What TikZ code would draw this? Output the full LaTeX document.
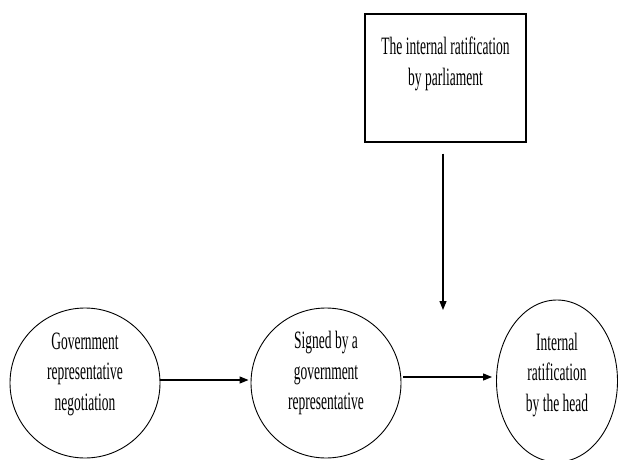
\documentclass[tikz,border=0pt]{standalone}
\usepackage{fontspec}
\setmainfont{Liberation Serif}
\newfontfamily\narrowserif[FakeStretch=0.54]{Liberation Serif}
\usetikzlibrary{arrows.meta,shapes.geometric}
\begin{document}
\begin{tikzpicture}[x=1pt,y=-1pt,
  every node/.style={font=\narrowserif\fontsize{25}{30.5}\selectfont},
  stage/.style={circle,draw,line width=0.9pt,minimum size=150pt,inner sep=0pt},
  stageoval/.style={ellipse,draw,line width=0.9pt,minimum width=121pt,minimum height=162pt,inner sep=0pt},
  parlbox/.style={rectangle,draw,line width=1.4pt,minimum width=161pt,minimum height=128pt,inner sep=0pt},
  txt/.style={align=center,inner sep=0pt},
  arr/.style={-{Triangle[length=9pt,width=7pt]},line width=1.2pt}]
\useasboundingbox (0,0) rectangle (621,460);
\node[parlbox] (box) at (445.5,78) {};
\node[txt,anchor=north] (boxt) at (445.5,37) {The internal ratification\\by parliament};
\node[stage] (c1) at (85,383) {};
\node[txt] (t1) at (85,374) {Government\\representative\\negotiation};
\node[stage] (c2) at (326,383) {};
\node[txt] (t2) at (326,373) {Signed by a\\government\\representative};
\node[stageoval] (c3) at (557,381) {};
\node[txt] (t3) at (557,375) {Internal\\ratification\\by the head};
\coordinate (vend) at (443,310);
\coordinate (rowa) at (0,380);
\coordinate (rowb) at (0,377);
\draw[arr] (box.south -| vend) ++(0,11) -- (vend);
\draw[arr] (c1.east |- rowa) -- ([xshift=-2pt]c2.west |- rowa);
\draw[arr] ([xshift=2pt]c2.east |- rowb) -- ([xshift=-4pt]c3.west |- rowb);
\end{tikzpicture}
\end{document}
